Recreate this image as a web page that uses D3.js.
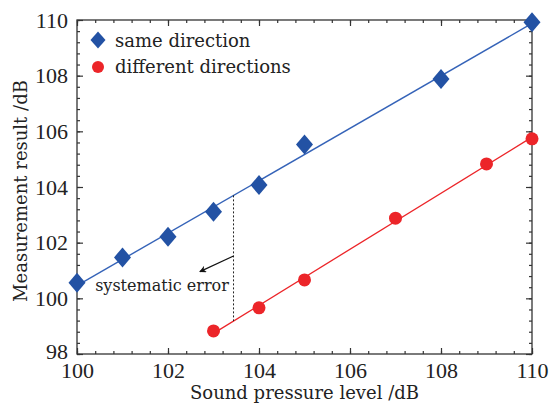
<!DOCTYPE html>
<html>
<head>
<meta charset="utf-8">
<script src="https://cdn.jsdelivr.net/npm/d3@7"></script>
<style>
  body { margin: 0; background: #fff; }
  svg text { fill: #222; }
</style>
</head>
<body>
<div id="chart"></div>
<script>
// values
var sameX = [100, 101, 102, 103, 104, 105, 108, 110];
var sameY = [100.56, 101.47, 102.21, 103.11, 104.07, 105.53, 107.88, 109.92];
var diffX = [103, 104, 105, 107, 109, 110];
var diffY = [98.83, 99.66, 100.66, 102.88, 104.83, 105.73];
var xTicks = [100, 102, 104, 106, 108, 110];
var yTicks = [98, 100, 102, 104, 106, 108, 110];
var legendLabels = ["same direction", "different directions"];
var errX = 103.44;              // dotted line position
var arrowFrom = [103.44, 101.52];
var arrowTo = [102.70, 100.96];

const width = 549, height = 404;
const pLeft = 77, pRight = 532, pTop = 20, pBottom = 354;
const blue = "#2352a4", blueLine = "#3563b8", red = "#ec2529";

var svg = d3.select("#chart").append("svg")
  .attr("width", width)
  .attr("height", height);

var x = d3.scaleLinear().domain([100, 110]).range([pLeft, pRight]);
var y = d3.scaleLinear().domain([98, 110]).range([pBottom, pTop]);

// simple least squares fit
function fit(xs, ys) {
  var mx = d3.mean(xs), my = d3.mean(ys);
  var sxy = d3.sum(xs, function(v, i){ return (v - mx) * (ys[i] - my); });
  var sxx = d3.sum(xs, function(v){ return (v - mx) * (v - mx); });
  var b = sxy / sxx;
  return function(v){ return my + b * (v - mx); };
}
var fSame = fit(sameX, sameY);
var fDiff = fit(diffX, diffY);

var minor = d3.range(100, 110.001, 0.4);
var minorY = d3.range(98, 110.001, 0.4);

// axes, ticks pointing inwards
function axisGroup(axis, tx, ty) {
  var g = svg.append("g").attr("transform", "translate(" + tx + "," + ty + ")").call(axis);
  g.select(".domain").remove();
  g.selectAll("line").attr("stroke", "#333").attr("stroke-width", 1.2);
  return g;
}
axisGroup(d3.axisBottom(x).tickValues(minor).tickSize(-3).tickFormat(""), 0, pBottom);
axisGroup(d3.axisTop(x).tickValues(minor).tickSize(-3).tickFormat(""), 0, pTop);
axisGroup(d3.axisLeft(y).tickValues(minorY).tickSize(-3).tickFormat(""), pLeft, 0);
axisGroup(d3.axisRight(y).tickValues(minorY).tickSize(-3).tickFormat(""), pRight, 0);
axisGroup(d3.axisTop(x).tickValues(xTicks).tickSize(-6).tickFormat(""), 0, pTop);
axisGroup(d3.axisRight(y).tickValues(yTicks).tickSize(-6).tickFormat(""), pRight, 0);

var xa = axisGroup(d3.axisBottom(x).tickValues(xTicks).tickSize(-6).tickPadding(8), 0, pBottom);
var ya = axisGroup(d3.axisLeft(y).tickValues(yTicks).tickSize(-6).tickPadding(9), pLeft, 0);
[xa, ya].forEach(function(g){
  g.selectAll("text")
    .attr("font-family", "Liberation Serif, serif")
    .attr("font-size", 22)
    .attr("fill", "#222");
});
// lift the lowest y label a little so it clears the "100" below it
ya.selectAll("text").filter(function(d){ return d === 98; }).attr("dy", "0.2em");

svg.append("rect")
  .attr("x", pLeft).attr("y", pTop)
  .attr("width", pRight - pLeft).attr("height", pBottom - pTop)
  .attr("fill", "none").attr("stroke", "#333").attr("stroke-width", 1.3);

// axis titles
svg.append("text")
  .attr("x", (pLeft + pRight) / 2).attr("y", 399)
  .attr("text-anchor", "middle")
  .attr("font-family", "DejaVu Serif, serif").attr("font-size", 18)
  .text("Sound pressure level /dB");

svg.append("text")
  .attr("transform", "translate(27," + ((pTop + pBottom) / 2 + 4) + ") rotate(-90)")
  .attr("text-anchor", "middle")
  .attr("font-family", "DejaVu Serif, serif").attr("font-size", 18)
  .text("Measurement result /dB");

// fit lines
svg.append("line")
  .attr("x1", x(100)).attr("y1", y(fSame(100)))
  .attr("x2", x(110)).attr("y2", y(fSame(110)))
  .attr("stroke", blueLine).attr("stroke-width", 1.4);
svg.append("line")
  .attr("x1", x(d3.min(diffX))).attr("y1", y(fDiff(d3.min(diffX))))
  .attr("x2", x(110)).attr("y2", y(fDiff(110)))
  .attr("stroke", red).attr("stroke-width", 1.3);

// systematic error marker
svg.append("line")
  .attr("x1", x(errX)).attr("y1", y(fSame(errX)))
  .attr("x2", x(errX)).attr("y2", y(fDiff(errX)))
  .attr("stroke", "#222").attr("stroke-width", 1)
  .attr("stroke-dasharray", "2,2");

svg.append("defs").append("marker")
  .attr("id", "arrow")
  .attr("viewBox", "0 0 10 10")
  .attr("refX", 9).attr("refY", 5)
  .attr("markerWidth", 9).attr("markerHeight", 7)
  .attr("markerUnits", "userSpaceOnUse")
  .attr("orient", "auto")
  .append("path").attr("d", "M0,0 L10,5 L0,10 L3,5 Z").attr("fill", "#111");

svg.append("line")
  .attr("x1", x(arrowFrom[0])).attr("y1", y(arrowFrom[1]))
  .attr("x2", x(arrowTo[0])).attr("y2", y(arrowTo[1]))
  .attr("stroke", "#111").attr("stroke-width", 1.2)
  .attr("marker-end", "url(#arrow)");

svg.append("text")
  .attr("x", 162).attr("y", 291)
  .attr("text-anchor", "middle")
  .attr("font-family", "DejaVu Serif, serif").attr("font-size", 16)
  .text("systematic error");

// markers
var diamond = function(cx, cy, w, h) {
  return "M" + cx + "," + (cy - h) + "L" + (cx + w) + "," + cy + "L" + cx + "," + (cy + h) + "L" + (cx - w) + "," + cy + "Z";
};

svg.selectAll("path.same")
  .data(sameX)
  .enter().append("path")
  .attr("class", "same")
  .attr("d", function(d, i){ return diamond(x(d), y(sameY[i]), 8.5, 10); })
  .attr("fill", blue);

svg.selectAll("circle.diff")
  .data(diffX)
  .enter().append("circle")
  .attr("class", "diff")
  .attr("cx", function(d){ return x(d); })
  .attr("cy", function(d, i){ return y(diffY[i]); })
  .attr("r", 6.5)
  .attr("fill", red);

// legend
svg.append("path").attr("d", diamond(98, 40, 7.5, 8.5)).attr("fill", blue);
svg.append("circle").attr("cx", 98).attr("cy", 67).attr("r", 6).attr("fill", red);
svg.selectAll("text.leg")
  .data(legendLabels)
  .enter().append("text")
  .attr("class", "leg")
  .attr("x", 115)
  .attr("y", function(d, i){ return 47 + i * 26; })
  .attr("font-family", "DejaVu Serif, serif").attr("font-size", 18)
  .text(function(d){ return d; });
</script>
</body>
</html>
